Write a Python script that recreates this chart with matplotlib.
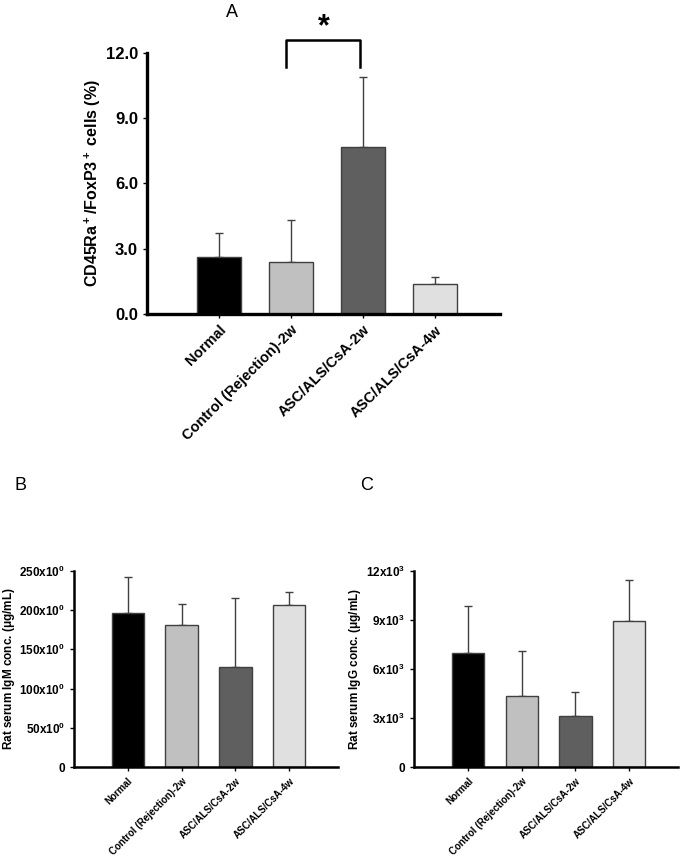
import matplotlib
matplotlib.use("Agg")
import matplotlib.pyplot as plt
import numpy as np

plt.rcParams['font.family'] = ['Liberation Sans', 'DejaVu Sans']
plt.rcParams['font.weight'] = 'bold'
plt.rcParams['mathtext.fontset'] = 'custom'
plt.rcParams['mathtext.rm'] = 'Liberation Sans:bold'
plt.rcParams['mathtext.bf'] = 'Liberation Sans:bold'
plt.rcParams['mathtext.default'] = 'bf'

groups = ['Normal', 'Control (Rejection)-2w', 'ASC/ALS/CsA-2w', 'ASC/ALS/CsA-4w']
colors = ['#000000', '#c0c0c0', '#5f5f5f', '#e0e0e0']

# panel A: CD45Ra+/FoxP3+ cells (%)
treg_mean = [2.62, 2.39, 7.70, 1.37]
treg_err = [1.09, 1.94, 3.19, 0.33]
treg_ticks = [0, 3, 6, 9, 12]
treg_ticklabels = ['0.0', '3.0', '6.0', '9.0', '12.0']

# panel B: IgM (ug/mL)
igm_mean = [196.8, 180.7, 128.0, 206.0]
igm_err = [46.0, 27.6, 87.0, 16.8]
igm_ticks = [0, 50, 100, 150, 200, 250]
igm_ticklabels = ['0', '50x10$^0$', '100x10$^0$', '150x10$^0$', '200x10$^0$', '250x10$^0$']

# panel C: IgG (ug/mL)
igg_mean = [6970, 4350, 3120, 8940]
igg_err = [2880, 2750, 1450, 2510]
igg_ticks = [0, 3000, 6000, 9000, 12000]
igg_ticklabels = ['0', '3x10$^3$', '6x10$^3$', '9x10$^3$', '12x10$^3$']

fig = plt.figure(figsize=(6.85, 8.59), dpi=100)


def panel(ax, means, errs, ticks, ticklabels, ylabel, lw, tfs, xfs, yfs, width, pad):
    x = np.arange(len(groups))
    ax.bar(x, means, width=width, color=colors, edgecolor='#404040', linewidth=1.0, zorder=2)
    ax.errorbar(x, means, yerr=[np.zeros(len(errs)), errs], fmt='none',
                ecolor='#404040', elinewidth=1.0, capsize=3, capthick=1.0, zorder=1)
    ax.set_xlim(-1, 3.9)
    ax.set_ylim(ticks[0], ticks[-1])
    ax.set_yticks(ticks)
    ax.set_yticklabels(ticklabels, fontsize=tfs, fontweight='bold')
    ax.set_xticks(x)
    ax.set_xticklabels(groups, rotation=45, ha='right', rotation_mode='anchor',
                       fontsize=xfs, fontweight='bold')
    ax.set_ylabel(ylabel, fontsize=yfs, fontweight='bold', labelpad=pad)
    for s in ['top', 'right']:
        ax.spines[s].set_visible(False)
    for s in ['left', 'bottom']:
        ax.spines[s].set_linewidth(lw)
    ax.tick_params(axis='both', direction='out', length=3, width=1)


axA = fig.add_axes([0.2146, 0.6345, 0.515, 0.3038])
panel(axA, treg_mean, treg_err, treg_ticks, treg_ticklabels,
      'CD45Ra$^+$/FoxP3$^+$ cells (%)', 2.4, 12, 10.5, 11.5, 0.6, 2)
axA.set_ylim(0, 12)
# significance bracket
axA.plot([0.93, 0.93, 1.96, 1.96], [11.35, 12.58, 12.58, 11.35], color='black',
         lw=1.8, clip_on=False)
axA.text(1.45, 13.2, '*', ha='center', va='center', fontsize=22, fontweight='bold')
fig.text(0.338, 0.985, 'A', fontsize=13, fontweight='normal', ha='center', va='center')

axB = fig.add_axes([0.108, 0.1071, 0.385, 0.2282])
panel(axB, igm_mean, igm_err, igm_ticks, igm_ticklabels,
      'Rat serum IgM conc. ($\\mu$g/mL)', 1.8, 8.5, 7.0, 8.5, 0.6, 2)

axC = fig.add_axes([0.6044, 0.1071, 0.385, 0.2282])
panel(axC, igg_mean, igg_err, igg_ticks, igg_ticklabels,
      'Rat serum IgG conc. ($\\mu$g/mL)', 1.8, 8.5, 7.0, 8.5, 0.6, 2)

fig.text(0.03, 0.435, 'B', fontsize=13, fontweight='normal', ha='center', va='center')
fig.text(0.535, 0.435, 'C', fontsize=13, fontweight='normal', ha='center', va='center')

fig.savefig('out.png', dpi=100)
